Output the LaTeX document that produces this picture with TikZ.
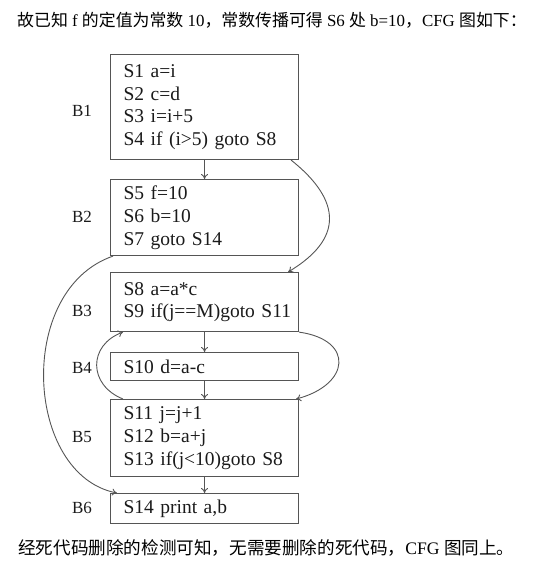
\documentclass[tikz,border=0pt]{standalone}
\usepackage{fontspec}
\setmainfont{Liberation Serif}
\newfontfamily\cjk{Noto Sans CJK SC}
\usetikzlibrary{arrows.meta}
\definecolor{boxline}{HTML}{555555}
\definecolor{txt}{HTML}{1A1A1A}
\tikzset{
  blk/.style={draw=boxline, line width=1.1pt, rectangle, anchor=north west,
    minimum width=188pt, inner xsep=13pt, inner ysep=0pt, text width=162pt, align=left,
    text=txt, font=\fontsize{19.5}{22.7}\selectfont},
  blab/.style={text=txt, font=\fontsize{17}{20}\selectfont, inner sep=0pt},
  arr/.style={draw=boxline, line width=0.9pt, -{To[length=5pt,width=7pt]}},
  captext/.style={anchor=west, inner sep=0pt, text=black, font=\fontsize{17.2}{20}\selectfont}
}
\begin{document}
\begin{tikzpicture}[x=1pt,y=-1pt]
\useasboundingbox (0,0) rectangle (533,561);
\node[captext, font=\fontsize{16.9}{20}\selectfont] (top) at (17,20) {{\cjk 故已知} f {\cjk 的定值为常数} 10{\cjk ，常数传播可得} S6 {\cjk 处} b=10{\cjk ，}CFG {\cjk 图如下：}};
\node[blk, minimum height=105pt] (b1) at (110,54) {\mbox{S1 a=i}\\\mbox{S2 c=d}\\\mbox{S3 i=i+5}\\\mbox{S4 if (i>5) goto S8}};
\node[blk, minimum height=76pt] (b2) at (110,179) {\mbox{S5 f=10}\\\mbox{S6 b=10}\\\mbox{S7 goto S14}};
\node[blk, minimum height=59pt] (b3) at (110,272) {\mbox{S8 a=a*c}\\\mbox{S9 if(j==M)goto S11}};
\node[blk, minimum height=28pt] (b4) at (110,352) {\mbox{S10 d=a-c}};
\node[blk, minimum height=77pt] (b5) at (110,399) {\mbox{S11 j=j+1}\\\mbox{S12 b=a+j}\\\mbox{S13 if(j<10)goto S8}};
\node[blk, minimum height=30pt] (b6) at (110,493) {\mbox{S14 print a,b}};
\node[blab] (l1) at (82,111) {B1};
\node[blab] (l2) at (82,217) {B2};
\node[blab] (l3) at (82,311) {B3};
\node[blab] (l4) at (82,368) {B4};
\node[blab] (l5) at (82,437) {B5};
\node[blab] (l6) at (82,508) {B6};
\node[captext, font=\fontsize{17.6}{20}\selectfont] (bot) at (18,548) {{\cjk 经死代码删除的检测可知，无需要删除的死代码，}CFG {\cjk 图同上。}};
\draw[arr] (b1.south) -- (b2.north);
\draw[arr] (b3.south) -- (b4.north);
\draw[arr] (b4.south) -- (b5.north);
\draw[arr] (b5.south) -- (b6.north);
\draw[arr] ([xshift=-8pt]b1.south east) .. controls (335,195) and (350,235) .. ([xshift=-11pt]b3.north east);
\draw[arr] ([xshift=3pt]b2.south west) .. controls (15,290) and (25,475) .. ([xshift=7pt]b6.north west);
\draw[arr] ([xshift=13pt]b5.north west) .. controls (88,385) and (88,345) .. ([xshift=13pt]b3.south west);
\draw[arr] (b3.south east) .. controls (355,340) and (350,385) .. ([xshift=-3pt]b5.north east);
\end{tikzpicture}
\end{document}
